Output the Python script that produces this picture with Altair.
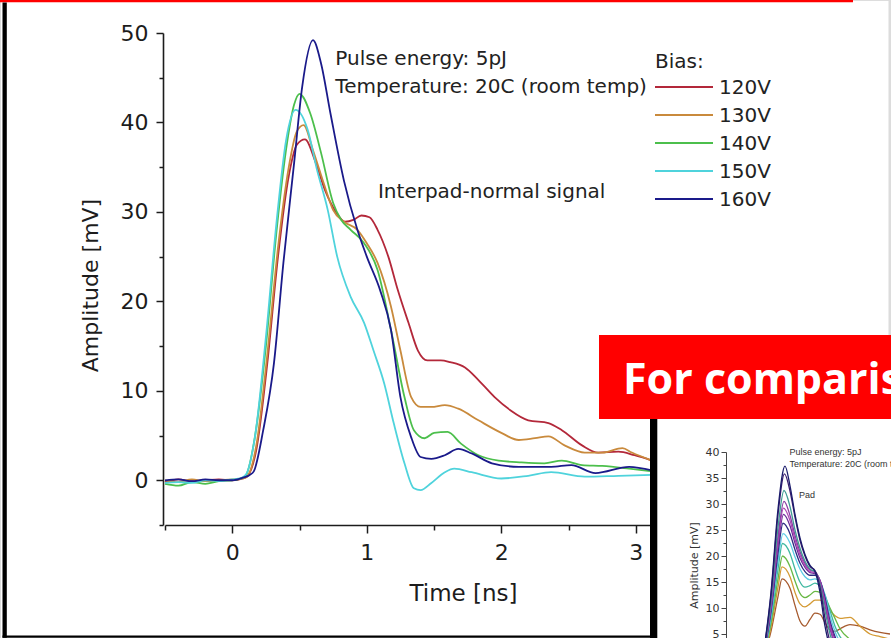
import altair as alt
import pandas as pd

# ---------------- main chart data ----------------
series = ["120V", "130V", "140V", "150V", "160V"]
series_colors = ["#b3283a", "#c98a3c", "#4cbf4c", "#4fd3dc", "#1a1a8a"]

t_120 = [-0.5, -0.4, -0.3, -0.2, -0.1, 0.0, 0.08, 0.11, 0.18, 0.26, 0.34, 0.42, 0.48, 0.54, 0.62, 0.69, 0.77,
         0.84, 0.90, 0.96, 1.02, 1.08, 1.16, 1.23, 1.31, 1.38, 1.45, 1.55, 1.62, 1.73, 1.83, 1.95, 2.07, 2.2,
         2.35, 2.45, 2.6, 2.72, 2.87, 2.99, 3.12]
v_120 = [-0.2, 0.1, -0.1, 0.0, 0.1, 0.0, 0.2, 0.4, 3.5, 13, 25, 34, 37.5, 38.1, 35.5, 32.4, 30, 28.9, 29.1,
         29.6, 29.4, 28, 25, 21.3, 17.6, 14.5, 13.4, 13.4, 13.2, 12.6, 11.2, 9.3, 7.8, 6.7, 6.4, 5.6, 3.9, 3.1,
         3.2, 2.8, 2.2]

t_130 = [-0.5, -0.4, -0.3, -0.2, -0.1, 0.0, 0.08, 0.11, 0.18, 0.26, 0.34, 0.42, 0.48, 0.53, 0.60, 0.68, 0.75,
         0.83, 0.93, 1.0, 1.08, 1.18, 1.25, 1.33, 1.40, 1.48, 1.58, 1.68, 1.83, 2.0, 2.13, 2.25, 2.35, 2.47,
         2.62, 2.75, 2.9, 2.97, 3.12]
v_130 = [0.0, -0.2, 0.1, -0.1, 0.0, 0.1, 0.2, 0.4, 4, 14, 26, 35, 39, 39.7, 36.9, 33.2, 30.2, 28.9, 28, 26.5,
         24.3, 19.4, 14.5, 9.3, 8.2, 8.2, 8.4, 8.0, 6.7, 5.3, 4.5, 4.7, 4.9, 3.9, 3.1, 3.1, 3.6, 3.1, 2.2]

t_140 = [-0.5, -0.4, -0.3, -0.2, -0.1, 0.0, 0.08, 0.10, 0.17, 0.25, 0.33, 0.41, 0.46, 0.50, 0.58, 0.66, 0.75,
         0.81, 0.88, 0.98, 1.08, 1.18, 1.28, 1.35, 1.43, 1.50, 1.60, 1.70, 1.83, 1.98, 2.15, 2.32, 2.45, 2.6,
         2.75, 2.95, 3.12]
v_140 = [-0.4, -0.6, -0.2, -0.4, -0.1, 0.0, 0.3, 0.5, 5, 15, 28, 38, 42, 43.2, 41, 36.6, 31, 29.1, 28, 26.5,
         23.5, 16.8, 9.3, 5.6, 4.7, 5.3, 5.4, 4.1, 2.8, 2.2, 2.0, 1.9, 2.2, 1.7, 1.6, 1.3, 1.0]

t_150 = [-0.5, -0.4, -0.3, -0.2, -0.1, 0.0, 0.06, 0.10, 0.17, 0.25, 0.33, 0.40, 0.47, 0.56, 0.63, 0.71, 0.78,
         0.88, 0.98, 1.05, 1.13, 1.20, 1.28, 1.35, 1.40, 1.48, 1.58, 1.65, 1.78, 2.0, 2.2, 2.37, 2.62, 2.87, 3.12]
v_150 = [-0.3, -0.2, -0.3, 0.0, -0.1, 0.1, 0.2, 0.6, 5, 16, 29, 38, 41.4, 39.2, 34.7, 30.2, 25, 20.5, 17.6,
         14.5, 10.8, 6.4, 1.9, -0.9, -1.1, -0.3, 0.9, 1.3, 0.9, 0.2, 0.5, 0.9, 0.4, 0.5, 0.6]

t_160 = [-0.5, -0.4, -0.3, -0.2, -0.1, 0.0, 0.08, 0.13, 0.16, 0.23, 0.31, 0.38, 0.46, 0.52, 0.60, 0.66, 0.73,
         0.83, 0.93, 1.0, 1.10, 1.18, 1.25, 1.33, 1.40, 1.48, 1.58, 1.68, 1.78, 1.93, 2.13, 2.37, 2.52, 2.70,
         2.95, 3.12]
v_160 = [0.0, 0.1, -0.1, 0.1, 0.0, 0.0, 0.3, 0.6, 1.0, 5.6, 13.1, 24.3, 35.5, 44, 49.2, 46.6, 41, 33.5, 28,
         25, 21.2, 16.8, 9.3, 4.8, 2.6, 2.4, 2.8, 3.5, 3.0, 1.9, 1.5, 1.5, 1.7, 0.8, 1.5, 1.1]

x_ticks = [-0.5, 0, 0.5, 1, 1.5, 2, 2.5, 3]
y_ticks = [-5, 0, 5, 10, 15, 20, 25, 30, 35, 40, 45, 50]

ann_text = ["Pulse energy: 5pJ", "Temperature: 20C (room temp)", "Interpad-normal signal"]
ann_t = [0.766, 0.766, 1.083]
ann_mV = [46.4, 43.3, 31.5]

# ---------------- inset (comparison) data ----------------
inset_names = ["c1", "c2", "c3", "c4", "c5", "c6", "c7", "c8", "c9", "c10", "c11", "c12"]
inset_colors = ["#1b1b6b", "#3b1c6e", "#3f9c94", "#8c3ca4", "#b048b4", "#6a2c98", "#2c2c82",
                "#5ccbe6", "#3fb8a0", "#68b844", "#d49a34", "#a65a2e"]
inset_peak_t = [0.90, 0.89, 0.88, 0.88, 0.87, 0.87, 0.86, 0.86, 0.85, 0.85, 0.84, 0.84]
inset_t_tail = [1.0, 1.1, 1.2, 1.3, 1.4, 1.5, 1.6, 1.7, 1.8, 1.9, 2.0, 2.2, 2.4, 2.6, 2.8, 3.0]
inset_v = [
    [0, 13, 29, 37.3, 33.5, 28, 23.5, 20.3, 18.2, 17.0, 13.0, 6.5, 2.5, 1.0, 0.5, 0.3, 0.3, 0.3, 0.3, 0.3],
    [0, 12.5, 28, 35.8, 32.5, 27.5, 23, 20, 18, 17.2, 14, 8, 3.5, 1.5, 0.8, 0.5, 0.4, 0.4, 0.4, 0.4],
    [0, 11.4, 25.5, 32.6, 29.5, 25, 21.5, 19, 17.5, 17.0, 14.5, 9.5, 5, 2.5, 1.5, 0.8, 0.6, 0.5, 0.5, 0.5],
    [0, 10.7, 23.8, 30.5, 27.8, 24, 20.8, 18.6, 17.3, 17.0, 15, 10.5, 6, 3, 1.8, 1.0, 0.8, 0.7, 0.6, 0.6],
    [0, 10.2, 22.8, 29.2, 26.8, 23.2, 20.2, 18.2, 17.0, 16.8, 15.2, 11, 6.5, 3.5, 2, 1.2, 1.0, 0.8, 0.7, 0.7],
    [0, 9.8, 21.8, 28.0, 25.8, 22.5, 19.6, 17.8, 16.8, 16.6, 15.3, 11.5, 7, 4, 2.2, 1.4, 1.1, 0.9, 0.8, 0.8],
    [0, 9.2, 20.5, 26.3, 24.3, 21.2, 18.6, 17.0, 16.3, 16.3, 15.3, 12, 7.5, 4.5, 2.5, 1.6, 1.2, 1.0, 0.9, 0.9],
    [0, 8.5, 19, 24.3, 22.5, 19.8, 17.5, 16.0, 15.4, 15.6, 15, 12.5, 8.5, 5.5, 3.5, 2.2, 1.6, 1.3, 1.1, 1.0],
    [0, 7.8, 17.5, 22.4, 20.5, 17.5, 15, 14, 14.3, 14.8, 14.2, 12.5, 9.5, 6.5, 4.5, 3.0, 2.2, 1.8, 1.5, 1.3],
    [0, 7, 15.6, 20.0, 18, 15.2, 12.8, 12, 12.5, 13.2, 13, 12, 10, 8, 6, 4.0, 3.0, 2.4, 2.0, 1.8],
    [0, 6.3, 14, 17.9, 16, 13, 10.8, 10.2, 10.8, 11.5, 11.5, 10.8, 9.5, 8.5, 8.0, 8.2, 6.5, 5.0, 4.5, 4.0],
    [0, 5.5, 12.2, 15.6, 13.8, 10.5, 7.5, 6.5, 7.8, 9.0, 8.8, 7.2, 5.8, 5.5, 6.0, 6.8, 6.5, 5.8, 5.3, 5.0],
]
inset_y_ticks = [2.5, 5, 7.5, 10, 12.5, 15, 17.5, 20, 22.5, 25, 27.5, 30, 32.5, 35, 37.5, 40]
inset_ann_text = ["Pulse energy: 5pJ", "Temperature: 20C (room temp)", "Pad"]
inset_ann_t = [0.99, 0.99, 1.18]
inset_ann_mV = [39.4, 37.1, 31.2]

# ---------------- tables ----------------
rows = []
for name, ts, vs in zip(series, [t_120, t_130, t_140, t_150, t_160], [v_120, v_130, v_140, v_150, v_160]):
    for t, v in zip(ts, vs):
        rows.append({"series": name, "t": t, "mV": v})
main_df = pd.DataFrame(rows)
ann_df = pd.DataFrame({"label": ann_text, "t": ann_t, "mV": ann_mV})

irows = []
for idx in range(len(inset_names) - 1, -1, -1):
    ts = [0.45, 0.62, 0.76, inset_peak_t[idx]] + inset_t_tail
    for t, v in zip(ts, inset_v[idx]):
        irows.append({"curve": inset_names[idx], "it": t, "imV": v})
inset_df = pd.DataFrame(irows)
inset_ann_df = pd.DataFrame({"label": inset_ann_text, "it": inset_ann_t, "imV": inset_ann_mV})
legend_df = pd.DataFrame({"series": series})

FONT = "DejaVu Sans"
INK = "#1c1c1c"

color_scale = alt.Scale(domain=series, range=series_colors)

x_main = alt.X("t:Q", scale=alt.Scale(domain=[-0.5, 3.12], range=[165, 652], nice=False, zero=False),
               axis=alt.Axis(values=x_ticks, orient="bottom", offset=-113,
                             labelExpr="datum.value % 1 === 0 ? format(datum.value, 'd') : ''",
                             tickSize={"condition": {"test": "datum.value % 1 === 0", "value": 8}, "value": 5},
                             labelFont=FONT, labelFontSize=22, labelColor=INK, labelPadding=9,
                             labelFlush=False, labelOverlap=False,
                             tickColor=INK, tickWidth=1.5, domainColor=INK, domainWidth=1.6, grid=False,
                             title="Time [ns]", titleFont=FONT, titleFontSize=23, titleFontWeight="normal",
                             titleColor=INK, titleX=463, titleY=75, titleAlign="center",
                             titleBaseline="alphabetic"))
y_main = alt.Y("mV:Q", scale=alt.Scale(domain=[-5, 50], range=[525, 33], nice=False, zero=False),
               axis=alt.Axis(values=y_ticks, orient="left", offset=-163,
                             labelExpr="datum.value % 10 === 0 ? datum.label : ''",
                             tickSize={"condition": {"test": "datum.value % 10 === 0", "value": 7}, "value": 4},
                             labelFont=FONT, labelFontSize=22, labelColor=INK, labelPadding=8,
                             labelOverlap=False, labelFlush=False,
                             tickColor=INK, tickWidth=1.5, domainColor=INK, domainWidth=1.6, grid=False,
                             title="Amplitude [mV]", titleFont=FONT, titleFontSize=22, titleFontWeight="normal",
                             titleColor=INK, titleX=-66, titleY=285, titleAlign="center",
                             titleBaseline="alphabetic"))

lines = alt.Chart(main_df).mark_line(strokeWidth=1.8, interpolate="monotone").encode(
    x=x_main, y=y_main,
    color=alt.Color("series:N", scale=color_scale, legend=None),
    order=alt.Order("t:Q"),
)
annotations = alt.Chart(ann_df).mark_text(font=FONT, fontSize=20, color="#222222", align="left",
                                          baseline="alphabetic").encode(x=x_main, y=y_main, text="label:N")
main = alt.layer(lines, annotations)

# legend built from the series list
leg_y = alt.Y("series:N", scale=alt.Scale(type="point", domain=series, range=[87, 199], padding=0), axis=None)
legend_rules = alt.Chart(legend_df).mark_rule(strokeWidth=2).encode(
    x=alt.value(655), x2=alt.value(713), y=leg_y,
    color=alt.Color("series:N", scale=color_scale, legend=None))
legend_text = alt.Chart(legend_df).mark_text(font=FONT, fontSize=20, color="#222222", align="left",
                                             baseline="middle", dy=1).encode(
    x=alt.value(719), y=leg_y, text="series:N")
legend_title = alt.Chart(alt.Data(values=[{"k": "Bias:"}])).mark_text(
    font=FONT, fontSize=20, color="#222222", align="left", baseline="alphabetic").encode(
    x=alt.value(655), y=alt.value(68), text="k:N")

# inset chart
x_in = alt.X("it:Q", scale=alt.Scale(domain=[0, 4], range=[740, 940], nice=False, zero=False), axis=None)
y_in = alt.Y("imV:Q", scale=alt.Scale(domain=[0, 40], range=[660, 452], nice=False, zero=False),
             axis=alt.Axis(values=inset_y_ticks, orient="left", offset=-726,
                           labelExpr="datum.value % 5 === 0 ? datum.label : ''",
                           tickSize={"condition": {"test": "datum.value % 5 === 0", "value": 5}, "value": 3},
                           labelFont=FONT, labelFontSize=11, labelColor="#333333", labelPadding=2,
                           labelOverlap=False, labelFlush=False,
                           tickColor="#444444", tickWidth=1, domainColor="#444444", domainWidth=1, grid=False,
                           title="Amplitude [mV]", titleFont=FONT, titleFontSize=11, titleFontWeight="normal",
                           titleColor="#333333", titleX=-29, titleY=565, titleAlign="center",
                           titleBaseline="alphabetic", zindex=1))
inset_lines = alt.Chart(inset_df).mark_line(strokeWidth=1.3, interpolate="monotone", clip=True).encode(
    x=x_in, y=y_in,
    color=alt.Color("curve:N", scale=alt.Scale(domain=inset_names, range=inset_colors), legend=None),
    order=alt.Order("it:Q"),
)
inset_text = alt.Chart(inset_ann_df).mark_text(font="Liberation Sans", fontSize=9, color="#333333",
                                               align="left", baseline="alphabetic").encode(
    x=x_in, y=y_in, text="label:N")
inset = alt.layer(inset_lines, inset_text)

# slide decorations
def deco(x0, x1, y0, y1, fill):
    return alt.Chart(alt.Data(values=[{"d": 1}])).mark_rect(color=fill).encode(
        x=alt.value(x0), x2=alt.value(x1), y=alt.value(y0), y2=alt.value(y1))

red_top = deco(0, 853, 0, 2.2, "#ff0000")
left_bar = deco(2.5, 6.8, 2.5, 637.8, "#000000")
bottom_bar = deco(2.5, 652, 635.6, 637.8, "#000000")
right_gray = deco(888.5, 891, 0, 335, "#dcdcdc")
black_divider = deco(650, 657.3, 419, 638, "#000000")
banner = deco(599, 891, 335, 419, "#ff0000")
banner_text = alt.Chart(alt.Data(values=[{"k": "For comparison"}])).mark_text(
    font="Open Sans", fontWeight="bold", fontSize=43, color="white", align="left",
    baseline="alphabetic").encode(x=alt.value(623), y=alt.value(394), text="k:N")

chart = alt.layer(
    main, legend_rules, legend_text, legend_title, inset,
    red_top, left_bar, bottom_bar, right_gray, black_divider, banner, banner_text,
).resolve_scale(x="independent", y="independent", color="independent").properties(
    width=891, height=638, padding=0, autosize=alt.AutoSizeParams(type="none"),
).configure_view(stroke=None).configure(background="white")

chart.save("out.html", embed_options={"renderer": "svg", "actions": False})
